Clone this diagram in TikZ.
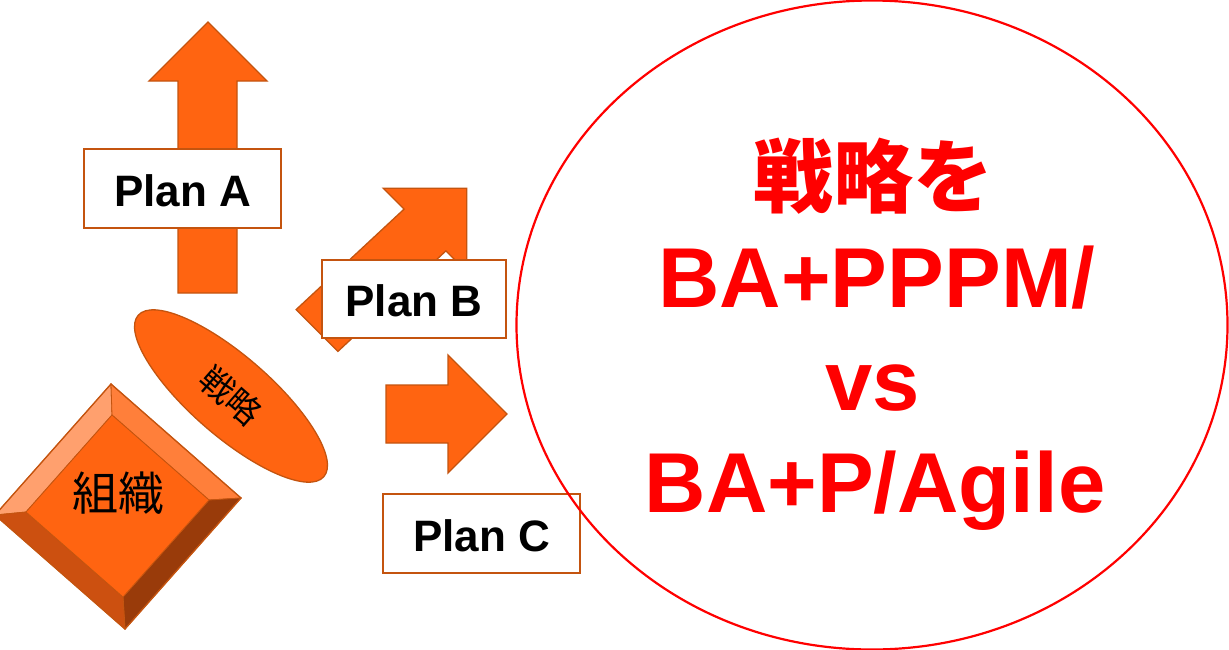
\documentclass[tikz,border=0pt]{standalone}
\usepackage{fontspec}
\setmainfont{Liberation Sans}
\newfontfamily\jpfont{Noto Sans CJK JP}
\usetikzlibrary{shapes.geometric}
\definecolor{org}{HTML}{FF6411}
\definecolor{orgline}{HTML}{C4540F}
\definecolor{bevTL}{HTML}{FFA06E}
\definecolor{bevTR}{HTML}{FF7F3A}
\definecolor{bevBL}{HTML}{CC5010}
\definecolor{bevBR}{HTML}{993B0A}
\definecolor{redtxt}{HTML}{FF0000}
\tikzset{
  arrowshape/.style={fill=org, draw=orgline, line width=1.3pt, line join=miter},
  facet/.style={draw=orgline, line width=0.8pt, line join=miter},
  planbox/.style={draw=orgline, fill=white, line width=1.5pt, inner sep=0pt,
    minimum width=197pt, minimum height=79pt, text height=35pt, text depth=0pt,
    font=\fontsize{44}{50}\selectfont\bfseries},
  bigtxt/.style={text=redtxt, anchor=base, inner sep=0pt,
    font=\fontsize{85}{100}\selectfont\bfseries},
}
\begin{document}
\begin{tikzpicture}[x=1pt,y=-1pt]
\useasboundingbox (0,0) rectangle (1229,649);
\fill[white] (0,0) rectangle (1229,649);

% Plan A arrow (up)
\draw[arrowshape] (178,293) -- (178,81) -- (149,81) -- (208,22) -- (267,81) -- (237,81) -- (237,293) -- cycle;
% Plan B arrow (diagonal)
\draw[arrowshape] (296.1,309.6) -- (404.1,209.1) -- (383.3,188.3) -- (466.7,188.3) -- (466.7,271.7) -- (445.9,250.9) -- (337.9,351.4) -- cycle;
% Plan C arrow (right)
\draw[arrowshape] (386,385) -- (448,385) -- (448,355) -- (507,414) -- (448,473) -- (448,443) -- (386,443) -- cycle;

% Plan boxes
\node[planbox] (pa) at (182.5,188.5) {Plan A};
\node[planbox, minimum width=184pt, minimum height=78pt] (pb) at (414,299) {Plan B};
\node[planbox] (pc) at (481.5,533.5) {Plan C};

% Bevelled diamond
\coordinate (OT) at (111,384); \coordinate (OR) at (241,498);
\coordinate (OB) at (125,629); \coordinate (OL) at (-5,515);
\coordinate (IT) at (112,415); \coordinate (IR) at (209,500);
\coordinate (IB) at (123,597); \coordinate (IL) at (26,512);
\filldraw[facet, fill=bevTL] (OL) -- (OT) -- (IT) -- (IL) -- cycle;
\filldraw[facet, fill=bevTR] (OT) -- (OR) -- (IR) -- (IT) -- cycle;
\filldraw[facet, fill=bevBR] (OR) -- (OB) -- (IB) -- (IR) -- cycle;
\filldraw[facet, fill=bevBL] (OB) -- (OL) -- (IL) -- (IB) -- cycle;
\filldraw[facet, fill=org] (IT) -- (IR) -- (IB) -- (IL) -- cycle;
\draw[draw=orgline, line width=1.3pt, line join=miter] (OT) -- (OR) -- (OB) -- (OL) -- cycle;
\node[anchor=base, inner sep=0pt, font=\jpfont\fontsize{46}{50}\selectfont] (org) at (118,510) {組織};

% Strategy ellipse
\node[ellipse, draw=orgline, fill=org, line width=1.3pt, inner sep=0pt,
  minimum width=246pt, minimum height=80pt, rotate=-41] (strat) at (231,396) {};
\node[rotate=-41, inner sep=0pt, font=\jpfont\fontsize{34}{36}\selectfont] (stratlbl) at (strat.center) {戦略};

% Big red ellipse
\node[ellipse, draw=redtxt, line width=2.2pt, inner sep=0pt,
  minimum width=711pt, minimum height=649pt] (goal) at (872,325) {};

% Red texts
\node[bigtxt, font=\jpfont\fontsize{80}{90}\selectfont\bfseries] (t1) at (873,206) {戦略を};
\node[bigtxt] (t2) at (877,307) {BA+PPPM/};
\node[bigtxt] (t3) at (873,410) {vs};
\node[bigtxt] (t4) at (875,512) {BA+P/Agile};
\end{tikzpicture}
\end{document}
